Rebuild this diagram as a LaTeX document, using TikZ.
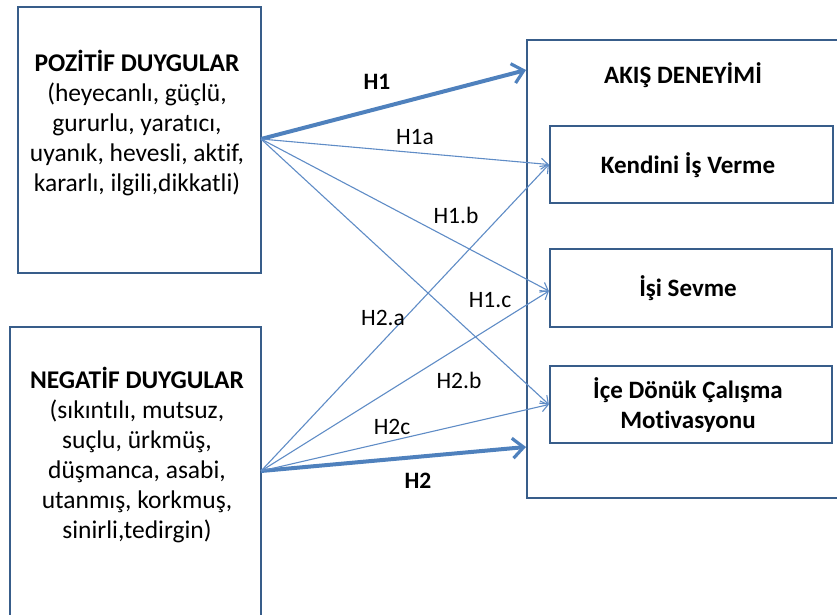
\documentclass[tikz,border=0pt]{standalone}
\usepackage{fontspec}
\setmainfont[Ligatures={NoCommon}]{Carlito}
\usetikzlibrary{arrows.meta}
\definecolor{boxblue}{RGB}{56,93,138}
\definecolor{arrblue}{RGB}{79,129,189}
\definecolor{thinblue}{RGB}{95,140,198}
\tikzset{
  box/.style={draw=boxblue, line width=2.2pt, rectangle, inner sep=0pt},
  txt/.style={font=\fontsize{25.5}{30}\selectfont, align=center, text=black, inner sep=0pt},
  btxt/.style={txt, font=\fontsize{25}{30}\selectfont\bfseries},
  lbl/.style={font=\fontsize{23.5}{25}\selectfont, text=black, inner sep=0pt},
  blbl/.style={lbl, font=\fontsize{23.5}{25}\selectfont\bfseries},
  thick arrow/.style={draw=arrblue, line width=4pt, -{Straight Barb[length=11pt,width=20pt,line width=3.2pt]}},
  thin arrow/.style={draw=thinblue, line width=1.1pt, -{Straight Barb[length=7pt,width=11pt,line width=1.1pt]}}
}
\begin{document}
\begin{tikzpicture}[x=1pt,y=-1pt]
\useasboundingbox (0,0) rectangle (837,614);
\begin{scope}
\clip (0,0) rectangle (837,614);
% boxes
\node[box, minimum width=243pt, minimum height=266pt] (pos) at (139.5,140) {};
\node[box, minimum width=251pt, minimum height=300pt] (neg) at (135.5,477) {};
\node[box, minimum width=320pt, minimum height=458pt] (flow) at (687,269) {};
\node[box, minimum width=283pt, minimum height=77pt] (k) at (691.5,164.5) {};
\node[box, minimum width=282pt, minimum height=78pt] (s) at (691,288) {};
\node[box, minimum width=282pt, minimum height=77pt] (i) at (691,404.5) {};
\coordinate (ps) at (261,139);
\coordinate (ns) at (261,471);
\coordinate (h1end) at (526,70);
\coordinate (h2end) at (526,447);
% texts
\node[txt, anchor=north] (post) at (137,50) {\textbf{POZİTİF DUYGULAR}\\(heyecanlı, güçlü,\\gururlu, yaratıcı,\\uyanık, hevesli, aktif,\\kararlı, ilgili,dikkatli)};
\node[txt, anchor=north] (negt) at (137,367) {\textbf{NEGATİF DUYGULAR}\\(sıkıntılı, mutsuz,\\suçlu, ürkmüş,\\düşmanca, asabi,\\utanmış, korkmuş,\\sinirli,tedirgin)};
\node[btxt] (flowt) at (683,75) {AKIŞ DENEYİMİ};
\node[btxt] (kt) at (688,165) {Kendini İş Verme};
\node[btxt] (st) at (688,288) {İşi Sevme};
\node[btxt] (it) at (688,405) {İçe Dönük Çalışma\\Motivasyonu};
% arrows
\draw[thick arrow] (ps) -- (h1end);
\draw[thick arrow] (ns) -- (h2end);
\draw[thin arrow] (ps) -- (k.west);
\draw[thin arrow] (ps) -- ([yshift=-3pt]s.west);
\draw[thin arrow] (ps) -- (i.west);
\draw[thin arrow] (ns) -- (k.west);
\draw[thin arrow] (ns) -- ([yshift=-3pt]s.west);
\draw[thin arrow] (ns) -- (i.west);
% labels
\node[blbl] (lh1) at (377,82) {H1};
\node[lbl] (lh1a) at (415,137) {H1a};
\node[lbl] (lh1b) at (456,215) {H1.b};
\node[lbl] (lh1c) at (490,300) {H1.c};
\node[lbl] (lh2a) at (383,318) {H2.a};
\node[lbl] (lh2b) at (459,380) {H2.b};
\node[lbl] (lh2c) at (392,427) {H2c};
\node[blbl] (lh2) at (418,481) {H2};
\end{scope}
\end{tikzpicture}
\end{document}
